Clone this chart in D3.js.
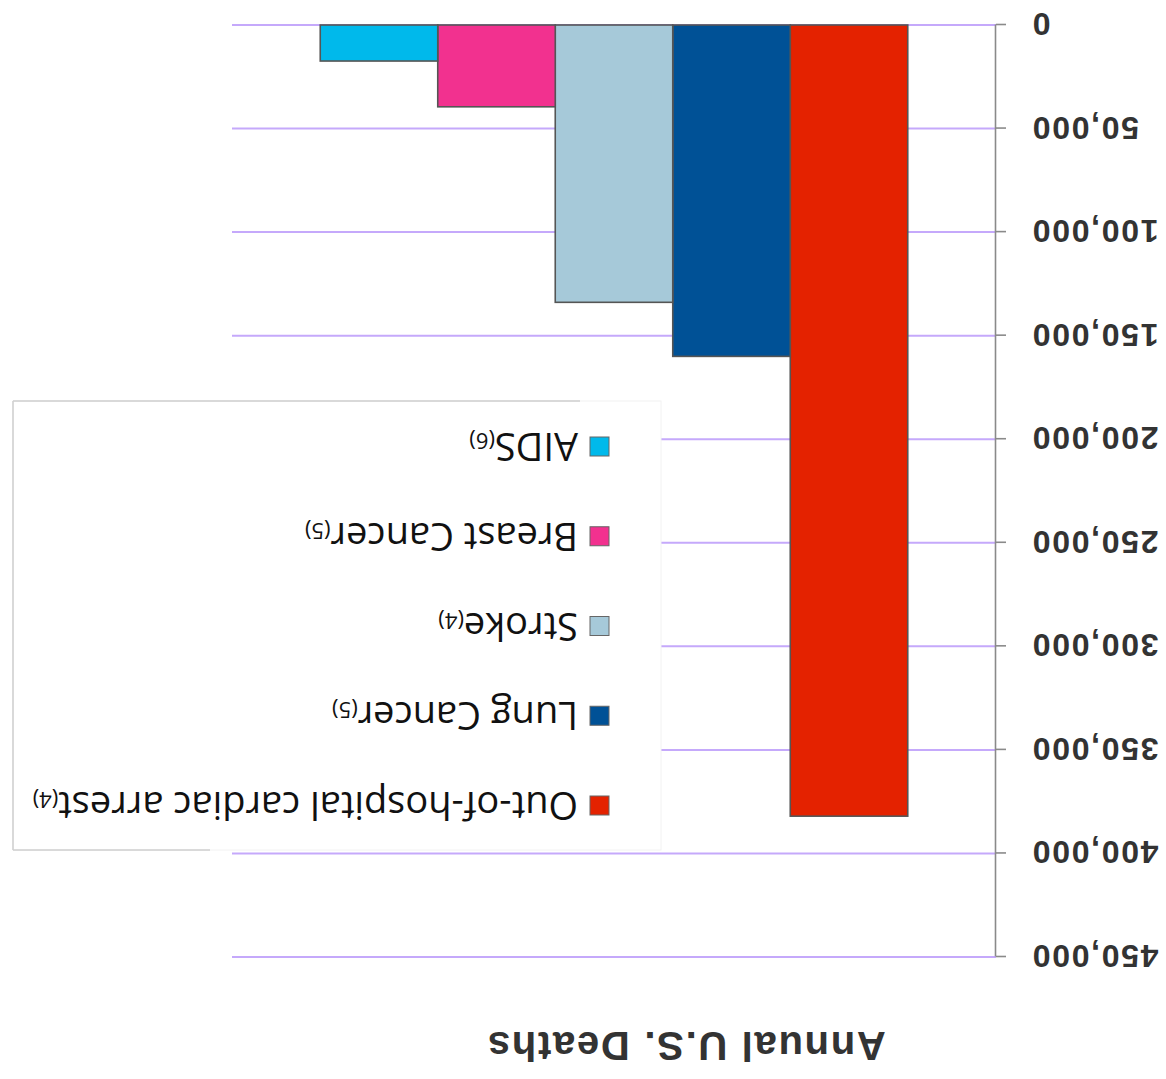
<!DOCTYPE html>
<html>
<head>
<meta charset="utf-8">
<script src="https://cdn.jsdelivr.net/npm/d3@7"></script>
<style>
  html, body { margin: 0; padding: 0; background: #fff; }
  svg { display: block; }
</style>
</head>
<body>
<script>
// Causes of death, in bar order
const categories = [
  "Out-of-hospital cardiac arrest",
  "Lung Cancer",
  "Stroke",
  "Breast Cancer",
  "AIDS"
];
// Source footnote numbers shown after each legend label
const footnotes = ["(4)", "(5)", "(4)", "(5)", "(6)"];
// Annual U.S. deaths per cause
const deaths = [382000, 160000, 133900, 39500, 17400];
const colors = ["#e42200", "#005196", "#a6c9d9", "#f2318f", "#00b9eb"];
const tickValues = [0, 50000, 100000, 150000, 200000, 250000, 300000, 350000, 400000, 450000];
const axisTitle = "Annual U.S. Deaths";

const W = 1166, H = 1079;
const svg = d3.select("body").append("svg")
  .attr("width", W).attr("height", H);

// The whole chart is drawn upside down
const g = svg.append("g")
  .attr("transform", `rotate(180 ${W / 2} ${H / 2})`);

const plotLeft = 170, plotRight = 934;
const y = d3.scaleLinear().domain([0, 450000]).range([1054, 122]);
const x = d3.scaleBand().domain(categories)
  .range([plotLeft, plotRight]).paddingInner(0).paddingOuter(0.751);

// Gridlines
g.append("g").selectAll("line").data(tickValues).join("line")
  .attr("x1", plotLeft).attr("x2", plotRight)
  .attr("y1", d => y(d)).attr("y2", d => y(d))
  .attr("stroke", "#c5a9fb").attr("stroke-width", 2);

// Bars
g.append("g").selectAll("rect").data(categories).join("rect")
  .attr("x", d => x(d))
  .attr("width", x.bandwidth())
  .attr("y", (d, i) => y(deaths[i]))
  .attr("height", (d, i) => y(0) - y(deaths[i]))
  .attr("fill", (d, i) => colors[i])
  .attr("stroke", "#555")
  .attr("stroke-width", 1.6);

// Value axis
const axis = d3.axisLeft(y)
  .tickValues(tickValues)
  .tickFormat(d3.format(","))
  .tickSize(10)
  .tickSizeOuter(0)
  .tickPadding(25);
const ag = g.append("g")
  .attr("transform", `translate(${plotLeft},0)`)
  .call(axis);
ag.select(".domain").attr("stroke", "#8a8a8a").attr("stroke-width", 1.6);
ag.selectAll(".tick line").attr("stroke", "#8a8a8a").attr("stroke-width", 1.6);
ag.selectAll(".tick text")
  .attr("fill", "#333")
  .attr("font-family", "'Liberation Sans', Arial, sans-serif")
  .attr("font-weight", "bold")
  .attr("font-size", 32)
  .attr("letter-spacing", 1.7)
  .attr("dy", "0.36em");

// Axis title
g.append("text")
  .attr("x", 480).attr("y", 47)
  .attr("text-anchor", "middle")
  .attr("fill", "#333")
  .attr("font-family", "'Liberation Sans', Arial, sans-serif")
  .attr("font-weight", "bold")
  .attr("font-size", 40)
  .attr("letter-spacing", 1.7)
  .text(axisTitle);

// Legend box
const lx0 = 505, lx1 = 1153, ly0 = 229, ly1 = 678;
const legend = g.append("g");
legend.append("rect")
  .attr("x", lx0).attr("y", ly0)
  .attr("width", lx1 - lx0).attr("height", ly1 - ly0)
  .attr("fill", "#fff").attr("stroke", "#f2f2f2").attr("stroke-width", 1);
const edge = [
  [lx1, ly0, lx1, ly1],
  [586, ly1, lx1, ly1],
  [956, ly0, lx1, ly0]
];
legend.selectAll("line.edge").data(edge).join("line")
  .attr("class", "edge")
  .attr("x1", d => d[0]).attr("y1", d => d[1])
  .attr("x2", d => d[2]).attr("y2", d => d[3])
  .attr("stroke", "#cfcfcf").attr("stroke-width", 1.5);

const rowY = d3.scalePoint().domain(categories).range([274, 633]);
const items = legend.selectAll("g.item").data(categories).join("g")
  .attr("class", "item")
  .attr("transform", d => `translate(557,${rowY(d)})`);
items.append("rect")
  .attr("x", 0).attr("y", -10).attr("width", 19).attr("height", 19)
  .attr("fill", (d, i) => colors[i])
  .attr("stroke", "#666").attr("stroke-width", 1);
const lt = items.append("text")
  .attr("x", 31).attr("y", 13)
  .attr("fill", "#111")
  .attr("font-family", "'Open Sans', sans-serif")
  .attr("font-size", 38);
lt.append("tspan").text(d => d);
lt.append("tspan").attr("font-size", 22).text((d, i) => footnotes[i]);
</script>
</body>
</html>
